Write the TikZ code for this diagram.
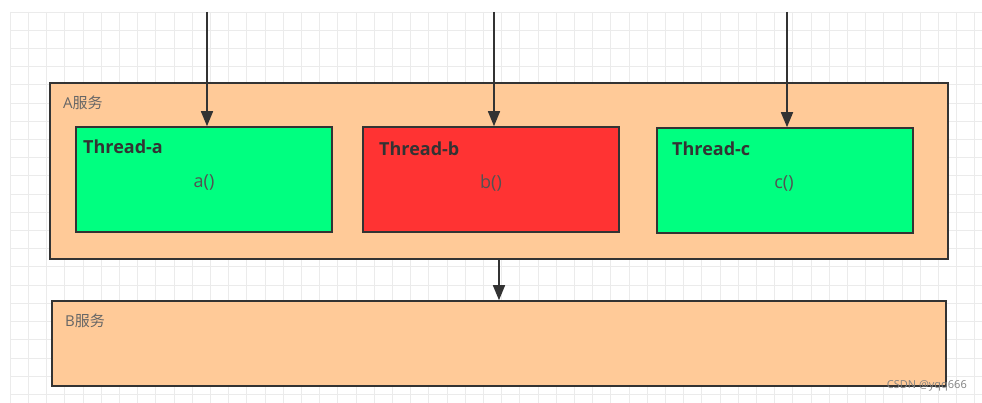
\documentclass[tikz,border=0pt]{standalone}
\usepackage{fontspec}
\setmainfont{Open Sans}
\newfontfamily\cjk{Noto Sans CJK SC}
\usepackage{xcolor}
\usetikzlibrary{arrows.meta,positioning,calc}
\definecolor{svcfill}{HTML}{FFCA98}
\definecolor{okfill}{HTML}{00FF80}
\definecolor{badfill}{HTML}{FF3333}
\definecolor{edge}{HTML}{333333}
\tikzset{
  svc/.style={draw=edge, fill=svcfill, line width=1.6pt, inner sep=0pt},
  thr/.style={draw=edge, line width=1.6pt, inner sep=0pt, minimum width=256pt, minimum height=105pt},
  ttl/.style={font=\fontsize{18}{20}\selectfont\bfseries, text=edge, anchor=west, inner sep=0pt},
  fn/.style={font=\fontsize{18}{20}\selectfont, text=edge!85, inner sep=0pt},
  svclab/.style={font=\fontsize{15}{17}\selectfont, text=black!60, anchor=west, inner sep=0pt},
  sig/.style={-{Triangle[length=15pt, width=12pt]}, line width=1.6pt, draw=edge},
  gridln/.style={black!8, line width=0.6pt},
}
\begin{document}
\begin{tikzpicture}[x=1pt, y=-1pt]
    \fill[white] (0,0) rectangle (982,403);
    \useasboundingbox (0,0) rectangle (982,403);
    % grid paper
    \foreach \i in {0,...,53} \draw[gridln] (10+18.2*\i,12) -- (10+18.2*\i,403);
    \foreach \j in {0,...,21} \draw[gridln] (10,12+18.2*\j) -- (982,12+18.2*\j);
    \node[svc, minimum width=898pt, minimum height=176pt] (svcA) at (499,171) {};
    \node[svc, minimum width=894pt, minimum height=85pt] (svcB) at (499,343.5) {};
    \node[svclab] (svcAlab) at (63,103) {A{\cjk 服务}};
    \node[svclab] (svcBlab) at (65,321) {B{\cjk 服务}};
    \node[thr, fill=okfill] (ta) at (204,179.5) {};
    \node[thr, fill=badfill] (tb) at (491,179.5) {};
    \node[thr, fill=okfill] (tc) at (785,180.5) {};
    \node[ttl] (talab) at (83,147) {Thread-a};
    \node[ttl] (tblab) at (379,149) {Thread-b};
    \node[ttl] (tclab) at (672,149) {Thread-c};
    \node[fn] (tafn) at (204,183) {a()};
    \node[fn] (tbfn) at (491,183) {b()};
    \node[fn] (tcfn) at (784,184) {c()};
    \coordinate (inA) at (207,12);
    \coordinate (inB) at (494,12);
    \coordinate (inC) at (787,12);
    \draw[sig] (inA) -- (inA |- ta.north);
    \draw[sig] (inB) -- (inB |- tb.north);
    \draw[sig] (inC) -- (inC |- tc.north);
    \draw[sig] (svcA.south) -- (svcB.north);
    \node[font=\fontsize{11}{13}\selectfont, text=black!50, anchor=east, inner sep=0pt] (mark) at (967,386) {CSDN @yqq666};
  \end{tikzpicture}
\end{document}
